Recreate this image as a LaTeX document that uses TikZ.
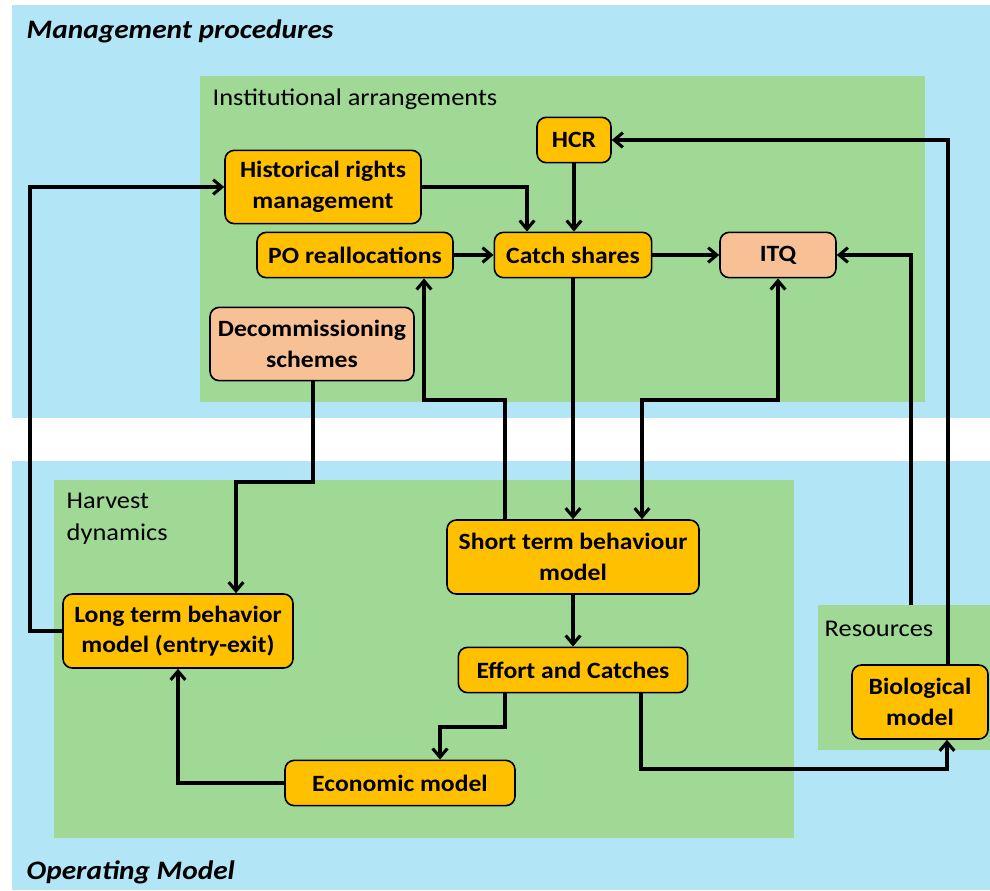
\documentclass[tikz,border=0pt]{standalone}
\usepackage{fontspec}
\setmainfont{Carlito}[FakeStretch=1.1]
\usetikzlibrary{arrows.meta}
\definecolor{bgblue}{HTML}{B2E6F7}
\definecolor{grpgreen}{HTML}{9FD995}
\definecolor{boxorange}{HTML}{FFC000}
\definecolor{boxsalmon}{HTML}{F8C195}
\tikzset{
  box/.style={draw=black, line width=1.2pt, rounded corners=7pt, fill=boxorange,
    align=center, inner sep=2pt, font=\fontsize{17.5}{23}\selectfont\bfseries},
  salmon/.style={box, fill=boxsalmon},
  tip/.tip={Straight Barb[length=6.5pt,width=11pt]},
  conn/.style={draw=black, line width=2.3pt, -tip},
  grplabel/.style={anchor=west, align=left, font=\fontsize{18}{24}\selectfont},
  title/.style={anchor=west, font=\fontsize{20}{24}\selectfont\bfseries\itshape}
}
\begin{document}
\begin{tikzpicture}[x=0.75pt,y=-0.75pt]
\useasboundingbox (0,0) rectangle (990,890);
\fill[white] (0,0) rectangle (990,890);
% backgrounds
\fill[bgblue] (12,5) rectangle (990,418);
\fill[bgblue] (12,461) rectangle (990,890);
\fill[grpgreen] (200,76) rectangle (925,402);
\fill[grpgreen] (54,480) rectangle (794,838);
\fill[grpgreen] (818,605) rectangle (990,750);
% labels
\node[title] (mp) at (22,31) {Management procedures};
\node[title] (om) at (22,872) {Operating Model};
\node[grplabel] (ia) at (208,99) {Institutional arrangements};
\node[grplabel] (hd) at (62,519) {Harvest\\dynamics};
\node[grplabel] (res) at (820,629) {Resources};
% nodes
\node[box, minimum width=147pt, minimum height=55pt] (hist) at (323,187) {Historical rights\\management};
\node[box, minimum width=147pt, minimum height=34pt] (po) at (355,255) {PO reallocations};
\node[box, minimum width=55.5pt, minimum height=34pt] (hcr) at (574,140) {HCR};
\node[box, minimum width=118pt, minimum height=34pt] (cs) at (573,255) {Catch shares};
\node[salmon, minimum width=87pt, minimum height=34pt] (itq) at (778,255) {ITQ};
\node[salmon, minimum width=153pt, minimum height=55pt] (dec) at (312,344) {Decommissioning\\schemes};
\node[box, minimum width=189pt, minimum height=55.5pt] (stb) at (573,557) {Short term behaviour\\model};
\node[box, minimum width=172.5pt, minimum height=55.5pt] (ltb) at (178,631) {Long term behavior\\model (entry-exit)};
\node[box, minimum width=172pt, minimum height=34pt] (eff) at (573,670) {Effort and Catches};
\node[box, minimum width=172.5pt, minimum height=34pt] (eco) at (400,783) {Economic model};
\node[box, minimum width=102pt, minimum height=55.5pt] (bio) at (920,702) {Biological\\model};
% connectors
\coordinate (resTop) at (911,605);
\draw[conn] (ltb.west) -| (30,187) -- (hist.west);
\draw[conn] (hist.east) -| (cs.north -| 527,0);
\draw[conn] (hcr.south) -- (cs.north -| hcr.south);
\draw[conn] (po.east) -- (cs.west);
\draw[conn] (cs.east) -- (itq.west);
\draw[conn] (resTop) |- (itq.east);
\draw[conn] (bio.north -| 948,0) |- (hcr.east);
\draw[conn] (cs.south) -- (stb.north -| cs.south);
\draw[conn, tip-tip] (itq.south) |- (642,400) -- (stb.north -| 642,0);
\draw[conn] (stb.north -| 505,0) |- (424,400) -- (po.south -| 424,0);
\draw[conn] (dec.south -| 313,0) |- (236,482) -- (ltb.north -| 236,0);
\draw[conn] (stb.south) -- (eff.north);
\draw[conn] (eff.south -| 505,0) |- (440,727) -- (eco.north -| 440,0);
\draw[conn] (eco.west) -| (ltb.south -| 178,0);
\draw[conn] (eff.south -| 641,0) |- (947,769) -- (bio.south -| 947,0);
\end{tikzpicture}
\end{document}
